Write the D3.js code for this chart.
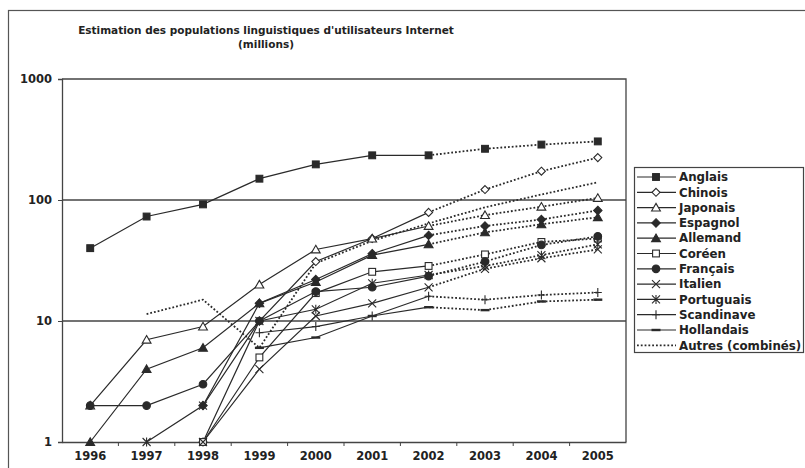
<!DOCTYPE html>
<html><head><meta charset="utf-8">
<script src="https://cdn.jsdelivr.net/npm/d3@7"></script>
<style>body{margin:0;background:#fff}svg{display:block}</style>
</head><body>
<svg id="c" width="805" height="468"></svg>
<script>
const years = [1996,1997,1998,1999,2000,2001,2002,2003,2004,2005];
const yTicks = [1,10,100,1000];
const anglais    = [40, 73, 92, 150, 197, 234, 234, 265, 287, 305];
const chinois    = [null, null, 1, 10, 31, 48, 79, 122, 173, 224];
const japonais   = [2, 7, 9, 20, 39, 48, 61, 75, 88, 104];
const espagnol   = [null, null, 2, 14, 22, 36, 51, 61, 69, 82];
const allemand   = [1, 4, 6, 14, 21, 35, 43, 54, 63, 72];
const coreen     = [null, null, 1, 5, 17, 25.5, 28.5, 35.5, 45, 48];
const francais   = [2, 2, 3, 10, 17.5, 19, 23.5, 31, 42.5, 50];
const italien    = [null, null, 1, 4, 11, 14, 19, 27, 33, 39];
const portugais  = [null, 1, 2, 10, 12.5, 20.5, 24, 28.5, 35, 43];
const scandinave = [null, null, null, 8, 9, 11, 16, 15, 16.4, 17.2];
const hollandais = [null, null, null, 6, 7.3, 11, 13, 12.3, 14.5, 15];
const autres     = [null, 11.4, 15, 6, 30, 46, 64, 87, 111, 140];
const names   = ["Anglais","Chinois","Japonais","Espagnol","Allemand","Coréen","Français","Italien","Portuguais","Scandinave","Hollandais","Autres (combinés)"];
const markers = ["sq","dia","tri","fdia","ftri","osq","circ","x","star","plus","dash","none"];
const seriesVals = [anglais,chinois,japonais,espagnol,allemand,coreen,francais,italien,portugais,scandinave,hollandais,autres];
const projFrom = 2002;

const svg = d3.select("#c");
const ink = "#2a2a2a";
const font = "'DejaVu Sans', Verdana, sans-serif";

// outer border
svg.append("rect").attr("x",8.5).attr("y",10.5).attr("width",810).attr("height",480)
  .attr("fill","none").attr("stroke","#555").attr("stroke-width",1.2);

// title
const title = svg.append("text").attr("x",266).attr("text-anchor","middle")
  .attr("font-family",font).attr("font-weight","bold").attr("font-size",10.5).attr("fill","#222");
title.append("tspan").attr("x",266).attr("y",34).text("Estimation des populations linguistiques d'utilisateurs Internet");
title.append("tspan").attr("x",266).attr("y",47.5).text("(millions)");

const L = 62, R = 626, T = 79, B = 442;
const x = d3.scaleBand().domain(years).range([L,R]);
const y = d3.scaleLog().domain([1,1000]).range([B,T]);
const cx = v => x(v) + x.bandwidth()/2;

// gridlines
svg.append("g").selectAll("line").data([10,100]).join("line")
  .attr("x1",L).attr("x2",R).attr("y1",d=>y(d)).attr("y2",d=>y(d))
  .attr("stroke","#444").attr("stroke-width",1.3);
// plot border top/right
svg.append("path").attr("d",`M${L},${T}H${R}V${B}`).attr("fill","none").attr("stroke","#444").attr("stroke-width",1.3);

// y axis
const ya = svg.append("g").attr("transform",`translate(${L},0)`)
  .call(d3.axisLeft(y).tickValues(yTicks).tickFormat(d3.format("d")).tickSize(4).tickPadding(6));
ya.select(".domain").attr("stroke","#444").attr("stroke-width",1.3);
ya.selectAll(".tick line").attr("stroke","#444");
ya.selectAll("text").attr("font-family",font).attr("font-weight","bold").attr("font-size",11.5).attr("fill","#222");

// x axis
const xa = svg.append("g").attr("transform",`translate(0,${B})`)
  .call(d3.axisBottom(x).tickSize(0).tickPadding(10));
xa.select(".domain").attr("stroke","#444").attr("stroke-width",1.3);
xa.selectAll("text").attr("font-family",font).attr("font-weight","bold").attr("font-size",11.5).attr("fill","#222");
svg.append("g").selectAll("line").data(years.slice(1)).join("line")
  .attr("x1",d=>x(d)).attr("x2",d=>x(d)).attr("y1",B).attr("y2",B+4)
  .attr("stroke","#444");

function drawMarker(g, type, px, py) {
  const s = 3.4;
  let el;
  switch(type){
    case "sq": el = g.append("rect").attr("x",px-s).attr("y",py-s).attr("width",2*s).attr("height",2*s).attr("fill",ink); break;
    case "osq": el = g.append("rect").attr("x",px-s).attr("y",py-s).attr("width",2*s).attr("height",2*s).attr("fill","#fff"); break;
    case "dia": el = g.append("path").attr("d",`M${px},${py-4}L${px+4},${py}L${px},${py+4}L${px-4},${py}Z`).attr("fill","#fff"); break;
    case "fdia": el = g.append("path").attr("d",`M${px},${py-4.2}L${px+4.2},${py}L${px},${py+4.2}L${px-4.2},${py}Z`).attr("fill",ink); break;
    case "tri": el = g.append("path").attr("d",`M${px},${py-4.2}L${px+4.4},${py+3.4}L${px-4.4},${py+3.4}Z`).attr("fill","#fff"); break;
    case "ftri": el = g.append("path").attr("d",`M${px},${py-4.2}L${px+4.4},${py+3.4}L${px-4.4},${py+3.4}Z`).attr("fill",ink); break;
    case "circ": el = g.append("circle").attr("cx",px).attr("cy",py).attr("r",3.8).attr("fill",ink); break;
    case "x": el = g.append("path").attr("d",`M${px-4},${py-4}L${px+4},${py+4}M${px-4},${py+4}L${px+4},${py-4}`).attr("fill","none"); break;
    case "star": el = g.append("path").attr("d",`M${px-4},${py-4}L${px+4},${py+4}M${px-4},${py+4}L${px+4},${py-4}M${px},${py-4.5}V${py+4.5}`).attr("fill","none"); break;
    case "plus": el = g.append("path").attr("d",`M${px-4},${py}H${px+4}M${px},${py-4.5}V${py+4.5}`).attr("fill","none"); break;
    case "dash": el = g.append("path").attr("d",`M${px-4.5},${py}H${px+4.5}`).attr("fill","none").attr("stroke-width",2.4); break;
    default: return;
  }
  el.attr("stroke",ink);
  if (type!=="dash") el.attr("stroke-width",1.1);
}

const line = d3.line().defined(d=>d.v!=null).x(d=>cx(d.yr)).y(d=>y(d.v));
const plot = svg.append("g");
seriesVals.forEach((vals,i)=>{
  const pts = years.map((yr,j)=>({yr, v: vals[j]}));
  if (markers[i]==="none") {
    plot.append("path").attr("d",line(pts)).attr("fill","none").attr("stroke",ink)
      .attr("stroke-width",1.8).attr("stroke-dasharray","1.8,2");
    return;
  }
  const solid = pts.filter(p=>p.yr<=projFrom);
  const proj = pts.filter(p=>p.yr>=projFrom);
  plot.append("path").attr("d",line(solid)).attr("fill","none").attr("stroke",ink).attr("stroke-width",1.2);
  plot.append("path").attr("d",line(proj)).attr("fill","none").attr("stroke",ink)
    .attr("stroke-width",1.8).attr("stroke-dasharray","1.8,2");
});
seriesVals.forEach((vals,i)=>{
  const g = plot.append("g");
  years.forEach((yr,j)=>{ if(vals[j]!=null) drawMarker(g, markers[i], cx(yr), y(vals[j])); });
});

// legend
const lg = svg.append("g");
lg.append("rect").attr("x",634.5).attr("y",167.5).attr("width",169).attr("height",185)
  .attr("fill","#fff").attr("stroke","#444").attr("stroke-width",1.2);
names.forEach((n,i)=>{
  const yy = 177 + i*15.3;
  if (markers[i]==="none") {
    lg.append("line").attr("x1",637).attr("x2",676).attr("y1",yy).attr("y2",yy)
      .attr("stroke",ink).attr("stroke-width",1.8).attr("stroke-dasharray","1.8,2");
  } else {
    lg.append("line").attr("x1",637).attr("x2",676).attr("y1",yy).attr("y2",yy)
      .attr("stroke",ink).attr("stroke-width",1.2);
    drawMarker(lg, markers[i], 656, yy);
  }
  lg.append("text").attr("x",679).attr("y",yy+4.2).attr("font-family",font)
    .attr("font-weight","bold").attr("font-size",11.8).attr("fill","#222").text(n);
});
</script>
</body></html>
